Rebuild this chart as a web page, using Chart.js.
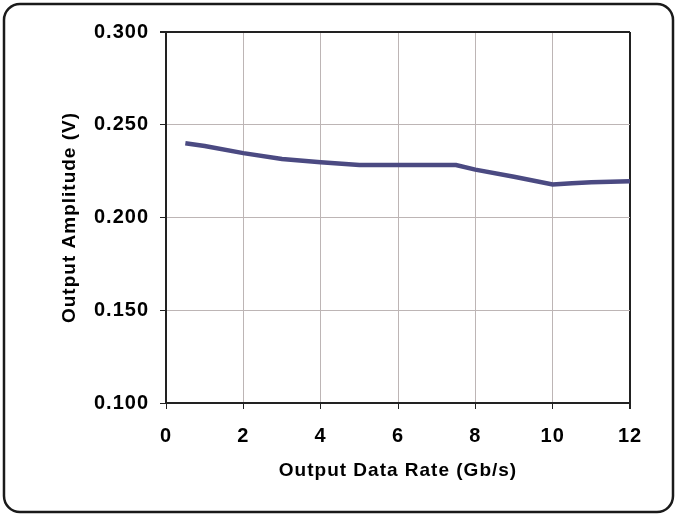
<!DOCTYPE html>
<html>
<head>
<meta charset="utf-8">
<script src="https://cdn.jsdelivr.net/npm/chart.js@4"></script>
<style>
  html, body { margin: 0; padding: 0; background: #fff; }
  #wrap { width: 676px; height: 516px; }
</style>
</head>
<body>
<div id="wrap"><canvas id="grafico" width="676" height="516"></canvas></div>
<script>
// valores
const taxas = [0.5, 1, 2, 3, 4, 5, 6, 7, 7.5, 8, 9, 10, 10.5, 11, 12];
const amplitudes = [0.240, 0.2385, 0.2347, 0.2315, 0.2298, 0.2283, 0.2283, 0.2283, 0.2283, 0.2258, 0.2220, 0.2178, 0.2185, 0.2190, 0.2195];
const ticksX = [0, 2, 4, 6, 8, 10, 12];
const ticksY = [0.100, 0.150, 0.200, 0.250, 0.300];

const corGrade = '#bdb5b5';

// moldura arredondada em volta de tudo + espacamento das letras
const moldura = {
  id: 'moldura',
  beforeDraw(chart) {
    const ctx = chart.ctx;
    ctx.save();
    ctx.fillStyle = '#fff';
    ctx.fillRect(0, 0, chart.width, chart.height);
    ctx.strokeStyle = '#1a1a1a';
    ctx.lineWidth = 2.5;
    ctx.beginPath();
    ctx.roundRect(4, 4, 669, 508, 16);
    ctx.stroke();
    ctx.restore();
    ctx.letterSpacing = '1px';
  }
};

new Chart(document.getElementById('grafico'), {
  type: 'line',
  data: {
    datasets: [{
      data: taxas.map((x, i) => ({ x: x, y: amplitudes[i] })),
      borderColor: '#4b4a82',
      borderWidth: 4.5,
      pointRadius: 0,
      tension: 0,
      fill: false
    }]
  },
  plugins: [moldura],
  options: {
    responsive: false,
    animation: false,
    layout: { padding: { left: 0, right: 46, top: 32, bottom: 0 } },
    plugins: { legend: { display: false }, tooltip: { enabled: false } },
    scales: {
      x: {
        type: 'linear',
        min: 0,
        max: 12,
        afterBuildTicks: s => { s.ticks = ticksX.map(v => ({ value: v })); },
        afterFit: s => { s.height = 113; },
        ticks: {
          color: '#000',
          padding: 15,
          font: { family: 'Liberation Sans', size: 20, weight: 'bold' }
        },
        grid: {
          color: c => c.tick && c.tick.value === 12 ? '#222' : corGrade,
          lineWidth: c => c.tick && c.tick.value === 12 ? 2 : 1,
          tickColor: '#222',
          tickLength: 6
        },
        border: { color: '#222', width: 2 },
        title: {
          display: true,
          text: 'Output Data Rate (Gb/s)',
          color: '#000',
          font: { family: 'Liberation Sans', size: 19, weight: 'bold' },
          padding: { top: 0, bottom: 34 }
        }
      },
      y: {
        min: 0.1,
        max: 0.3,
        afterBuildTicks: s => { s.ticks = ticksY.map(v => ({ value: v })); },
        afterFit: s => { s.width = 166; },
        ticks: {
          color: '#000',
          padding: 11,
          font: { family: 'Liberation Sans', size: 20, weight: 'bold' },
          callback: v => v.toFixed(3)
        },
        grid: {
          color: c => c.tick && Math.abs(c.tick.value - 0.3) < 1e-9 ? '#222' : corGrade,
          lineWidth: c => c.tick && Math.abs(c.tick.value - 0.3) < 1e-9 ? 2 : 1,
          tickColor: '#222',
          tickLength: 6
        },
        border: { color: '#222', width: 2 },
        title: {
          display: true,
          text: 'Output Amplitude (V)',
          color: '#000',
          font: { family: 'Liberation Sans', size: 19, weight: 'bold' },
          padding: { top: 58, bottom: 0 }
        }
      }
    }
  }
});
</script>
</body>
</html>
